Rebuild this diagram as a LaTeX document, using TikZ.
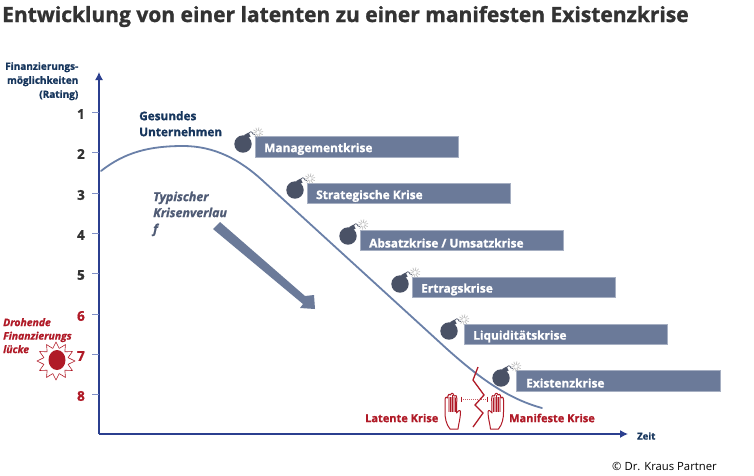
\documentclass[tikz,border=0pt]{standalone}
\usepackage{fontspec}
\setmainfont{Open Sans}[BoldFeatures={FakeBold=1.1},BoldItalicFeatures={FakeBold=1.1}]
\usetikzlibrary{arrows.meta}
\definecolor{barblue}{HTML}{6B7A99}
\definecolor{curveblue}{HTML}{6A80A8}
\definecolor{axisblue}{HTML}{2B3F8F}
\definecolor{tickblue}{HTML}{8090C8}
\definecolor{navy}{HTML}{17365D}
\definecolor{titlegray}{HTML}{333333}
\definecolor{crisisred}{HTML}{B01A27}
\definecolor{bombgray}{HTML}{4A5266}
\definecolor{typgray}{HTML}{4F5B75}
\tikzset{
  x=1pt,y=-1pt,
  krisebar/.style={fill=barblue,draw=barblue!60!white,line width=.7pt,minimum height=20.5pt,minimum width=203pt,anchor=west,inner sep=0pt},
  barlabel/.style={font=\fontsize{11.9}{13}\selectfont\bfseries,text=white,anchor=west,inner sep=0pt},
  ticklabel/.style={font=\fontsize{13.5}{15}\selectfont\bfseries,text=titlegray,anchor=east,inner sep=0pt},
  redtick/.style={ticklabel,text=crisisred},
  axisline/.style={draw=axisblue,line width=1.3pt,-{Latex[length=8pt,width=8pt]}},
  tickline/.style={draw=tickblue,line width=1pt},
  redlabel/.style={font=\fontsize{11}{13}\selectfont\bfseries,text=crisisred,inner sep=0pt},
  redside/.style={font=\fontsize{10.4}{13.5}\selectfont\bfseries\itshape,text=crisisred,align=left,anchor=north west,inner sep=0pt},
  handline/.style={draw=crisisred,line width=1pt,fill=white,line join=round},
}
\newcommand{\krisebomb}[2]{%
  \fill[bombgray] (#1,#2) circle (8.7);
  \fill[bombgray,rotate around={30:(#1+4.5,#2-8)}] (#1+2,#2-10.5) rectangle (#1+7,#2-6);
  \draw[bombgray,line width=.7pt] (#1+5.5,#2-10) .. controls (#1+7,#2-13) and (#1+9,#2-13) .. (#1+10,#2-10) -- (#1+12,#2-9.5);
  \foreach \a in {-150,-115,-80,-45,-10,25,60,95,130,175}{\draw[gray!55,line width=.6pt] (#1+15,#2-11.5) ++(\a:1.6) -- ++(\a:3.6);}
}
\begin{document}
\begin{tikzpicture}
\useasboundingbox (0,0) rectangle (754,475);
\fill[white] (0,0) rectangle (754,475);
% title
\node[anchor=base west,inner sep=0pt,text=titlegray,font=\fontsize{21}{24}\selectfont\bfseries] (title) at (2,22) {Entwicklung von einer latenten zu einer manifesten Existenzkrise};
% axis
\coordinate (origin) at (99,434);
\coordinate (ytop) at (99,72);
\coordinate (xend) at (628,434);
\draw[axisline] (origin) -- (ytop);
\draw[axisline] (origin) -- (xend);
\node[font=\fontsize{10}{14}\selectfont\bfseries,text=navy,align=right,anchor=north east,inner sep=0pt] (ylab) at (78.5,62) {Finanzierungs-\\möglichkeiten\\(Rating)};
\node[font=\fontsize{9.5}{10}\selectfont\bfseries,text=navy,anchor=west,inner sep=0pt] (xlab) at (637,436) {Zeit};
% ticks
\foreach \n/\y in {1/112,2/152,3/193,4/233,5/273}{
  \draw[tickline] (92,\y) -- (99,\y);
  \node[ticklabel] (t\n) at (85,\y+2) {\n};
}
\foreach \n/\y in {6/314,7/354,8/394}{
  \draw[tickline] (92,\y) -- (99,\y);
  \node[redtick] (t\n) at (85,\y+2) {\n};
}
% curve
\draw[curveblue,line width=1.8pt,line cap=round] (101,171) .. controls (125,152) and (150,146) .. (183,146)
  .. controls (215,146) and (240,160) .. (262,180) -- (447,349)
  .. controls (475,374) and (505,398) .. (542,408);
% labels
\node[font=\fontsize{11.8}{16}\selectfont\bfseries,text=navy,align=left,anchor=north west,inner sep=0pt] (gesund) at (139,111) {Gesundes\\Unternehmen};
\node[font=\fontsize{12.4}{16}\selectfont\bfseries\itshape,text=typgray,align=left,anchor=north west,inner sep=0pt] (typ) at (153,191.5) {Typischer\\Krisenverlau\\f};
% big arrow
\fill[barblue] (213,229) -- (220,222) -- (305,296) -- (314,295) -- (315,309) -- (300,308) -- (303,304) -- cycle;
% bars
\node[krisebar] (b1) at (255,147) {};
\node[krisebar] (b2) at (307,193.5) {};
\node[krisebar] (b3) at (360,240.5) {};
\node[krisebar] (b4) at (412,287.5) {};
\node[krisebar] (b5) at (464,334.5) {};
\node[krisebar,minimum width=204pt] (b6) at (516,381) {};
\node[barlabel] at (264,149) {Managementkrise};
\node[barlabel] at (316,196) {Strategische Krise};
\node[barlabel] at (369,243) {Absatzkrise / Umsatzkrise};
\node[barlabel] at (421,289.5) {Ertragskrise};
\node[barlabel] at (473,336.5) {Liquiditätskrise};
\node[barlabel] at (526,383) {Existenzkrise};
\krisebomb{243}{144}
\krisebomb{295}{190}
\krisebomb{348}{236}
\krisebomb{400}{284}
\krisebomb{449}{331}
\krisebomb{501}{378}
% crisis line
\draw[crisisred,line width=1.3pt,line join=miter] (478,367) -- (473,380) -- (484,395) -- (475,405) -- (483,413) -- (473,427);
% hands
\foreach \cx/\s in {453/1,495.5/-1}{
\begin{scope}[shift={(\cx,0)},xscale=\s]
  \fill[crisisred!45] (-5,397) rectangle (3,412);
  \draw[handline,fill=none] (-3,429) .. controls (-7,424) and (-8,418) .. (-8,412) -- (-8,400) .. controls (-8,397) and (-6,396) .. (-5.5,398)
   .. controls (-5,394) and (-3,393) .. (-2.5,395) .. controls (-1.5,392) and (0.5,393) .. (1,396) .. controls (2.5,394) and (4,396) .. (3.8,399)
   -- (3.5,413) .. controls (4.5,411) and (7.5,409) .. (7.5,412) .. controls (7.5,418) and (5.5,424) .. (5,429) -- cycle;
  \draw[crisisred,line width=.5pt] (-3,412) -- (-3,397) (-0.5,412) -- (-0.5,395) (2,412) -- (2,398);
\end{scope}
}
\draw[crisisred!70,line width=1pt,densely dotted] (461,399) -- (487,399);
\draw[crisisred,line width=.9pt] (461,396.5) -- (461,401.5) (487,396.5) -- (487,401.5);
\node[redlabel,anchor=east] (latent) at (438.5,418) {Latente Krise};
\node[redlabel,anchor=west] (manifest) at (509,418) {Manifeste Krise};
% side note
\node[redside] (drohend) at (3,318) {Drohende\\Finanzierungs\\lücke};
\fill[crisisred] (57,360) ellipse (8.5 and 10);
\draw[crisisred,line width=.6pt,line join=round] (56,342)
 \foreach \a in {30,60,...,330}{ -- ({56+12.5*sin(\a-15)},{361-13*cos(\a-15)}) -- ({56+19*sin(\a)},{361-19*cos(\a)}) } -- ({56+12.5*sin(345)},{361-13*cos(345)}) -- cycle;
% copyright
\node[font=\fontsize{11.3}{13}\selectfont,text=black,anchor=west,inner sep=0pt] (copy) at (612,466) {© Dr. Kraus Partner};
\end{tikzpicture}
\end{document}
